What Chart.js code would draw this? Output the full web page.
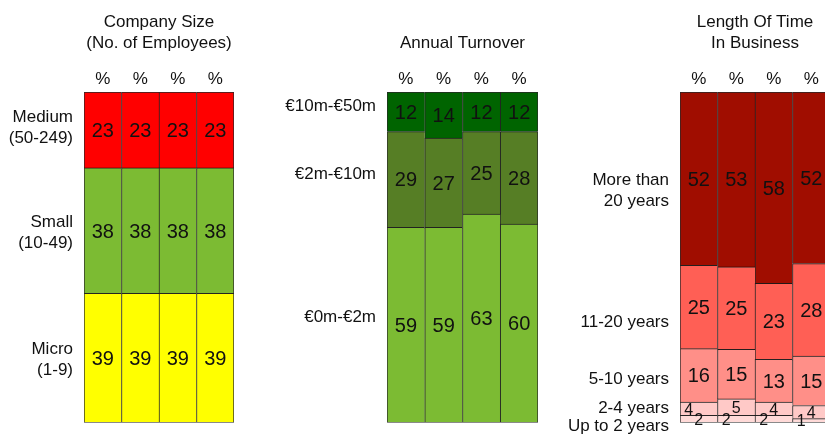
<!DOCTYPE html>
<html>
<head>
<meta charset="utf-8">
<script src="https://cdn.jsdelivr.net/npm/chart.js@4"></script>
<style>
  html, body { margin: 0; padding: 0; background: #fff; overflow: hidden; width: 825px; height: 434px; }
  canvas { position: absolute; top: 0; }
</style>
</head>
<body>
<canvas id="chart-size" width="280" height="434" style="left:0"></canvas>
<canvas id="chart-turnover" width="270" height="434" style="left:280px"></canvas>
<canvas id="chart-age" width="270" height="434" style="left:560px"></canvas>
<script>
'use strict';

// ── Data ───────────────────────────────────────────────────────────────────
const columns = ['%', '%', '%', '%'];

const sizeTitle  = ['Company Size', '(No. of Employees)'];
const sizeGroups = [['Micro', '(1-9)'], ['Small', '(10-49)'], ['Medium', '(50-249)']];
const sizeMicro  = [39, 39, 39, 39];
const sizeSmall  = [38, 38, 38, 38];
const sizeMedium = [23, 23, 23, 23];

const turnoverTitle  = ['Annual Turnover'];
const turnoverGroups = [['€0m-€2m'], ['€2m-€10m'], ['€10m-€50m']];
const turnoverLow    = [59, 59, 63, 60];
const turnoverMid    = [29, 27, 25, 28];
const turnoverHigh   = [12, 14, 12, 12];

const ageTitle  = ['Length Of Time', 'In Business'];
const ageGroups = [['Up to 2 years'], ['2-4 years'], ['5-10 years'], ['11-20 years'], ['More than', '20 years']];
const ageUpTo2  = [2, 2, 2, 1];
const age2to4   = [4, 5, 4, 4];
const age5to10  = [16, 15, 13, 15];
const age11to20 = [25, 25, 23, 28];
const age20plus = [52, 53, 58, 52];

// ── Style ──────────────────────────────────────────────────────────────────
const FONT = '"Liberation Sans", Arial, Helvetica, sans-serif';
const INK  = '#111';
const EDGE = 'rgba(0,0,0,0.85)';

// ── Text plugin ────────────────────────────────────────────────────────────
const panelText = {
  id: 'panelText',
  afterDatasetsDraw(chart, args, opts) {
    const ctx  = chart.ctx;
    const area = chart.chartArea;
    const cx   = (area.left + area.right) / 2;
    ctx.save();
    ctx.fillStyle = INK;
    ctx.textBaseline = 'middle';

    // bottom rule
    ctx.strokeStyle = '#8a8a8a';
    ctx.lineWidth = 1.2;
    ctx.beginPath();
    ctx.moveTo(area.left, area.bottom + 0.5);
    ctx.lineTo(area.right, area.bottom + 0.5);
    ctx.stroke();

    // title, bottom aligned
    ctx.textAlign = 'center';
    ctx.font = `17px ${FONT}`;
    const t = opts.title;
    t.forEach((line, i) => ctx.fillText(line, cx, 43 - (t.length - 1 - i) * 21));

    // column headings
    const first = chart.getDatasetMeta(0).data;
    columns.forEach((c, j) => ctx.fillText(c, first[j].x, 79));

    // row labels, next to first bar
    ctx.textAlign = 'right';
    opts.groups.forEach((lines, i) => {
      const el = chart.getDatasetMeta(i).data[0];
      const mid = (el.y + el.base) / 2 + (opts.rowShift[i] || 0);
      lines.forEach((line, k) => {
        ctx.fillText(line, area.left - 11, mid + (k - (lines.length - 1) / 2) * 21.5);
      });
    });

    // value labels
    ctx.textAlign = 'center';
    chart.data.datasets.forEach((ds, i) => {
      chart.getDatasetMeta(i).data.forEach((el, j) => {
        const h = el.base - el.y;
        ctx.font = `${h < 25 ? 16 : 20}px ${FONT}`;
        const nudge = (opts.nudgeLeft || []).some(n => n[0] === j && n[1] === i) ? -10 : 0;
        ctx.fillText(String(ds.raw[j]), el.x + nudge, (el.y + el.base) / 2 + 1.5);
      });
    });
    ctx.restore();
  },
};

// ── Build ──────────────────────────────────────────────────────────────────
function makePanel(id, series, colors, opts) {
  const totals = columns.map((c, j) => series.reduce((s, arr) => s + arr[j], 0));
  const datasets = series.map((arr, i) => ({
    raw: arr,
    data: arr.map((v, j) => v / totals[j] * 100),
    backgroundColor: colors[i],
    borderColor: EDGE,
    borderSkipped: false,
    borderWidth: ctx => ({
      top: 1,
      left: 1,
      right: ctx.dataIndex === columns.length - 1 ? 1 : 0,
      bottom: 0,
    }),
    barPercentage: 1,
    categoryPercentage: 1,
  }));

  return new Chart(document.getElementById(id), {
    type: 'bar',
    data: { labels: columns.map((c, j) => `${c}${j}`), datasets },
    options: {
      responsive: false,
      devicePixelRatio: 1,
      animation: false,
      layout: { padding: opts.padding },
      plugins: {
        legend: { display: false },
        tooltip: { enabled: false },
        panelText: opts,
      },
      scales: {
        x: { display: false, stacked: true },
        y: { display: false, stacked: true, min: 0, max: 100 },
      },
    },
    plugins: [panelText],
  });
}

makePanel('chart-size',
  [sizeMicro, sizeSmall, sizeMedium],
  ['#ffff00', '#7cbb33', '#ff0000'],
  {
    title: sizeTitle, groups: sizeGroups,
    rowShift: [2, 2, -2],
    padding: { left: 84, right: 46, top: 92, bottom: 12 },
  });

makePanel('chart-turnover',
  [turnoverLow, turnoverMid, turnoverHigh],
  ['#7cbb33', '#567e25', '#006400'],
  {
    title: turnoverTitle, groups: turnoverGroups,
    rowShift: [-7, -5, -5],
    padding: { left: 107, right: 12, top: 92, bottom: 12 },
  });

makePanel('chart-age',
  [ageUpTo2, age2to4, age5to10, age11to20, age20plus],
  ['#ffdad8', '#ffc9c7', '#ff8f88', '#ff5f55', '#a00d00'],
  {
    title: ageTitle, groups: ageGroups,
    rowShift: [8, 0, 4, 15, 12],
    nudgeLeft: [[0, 1], [1, 0], [2, 0], [3, 0]],
    padding: { left: 120, right: 0, top: 92, bottom: 12 },
  });
</script>
</body>
</html>
